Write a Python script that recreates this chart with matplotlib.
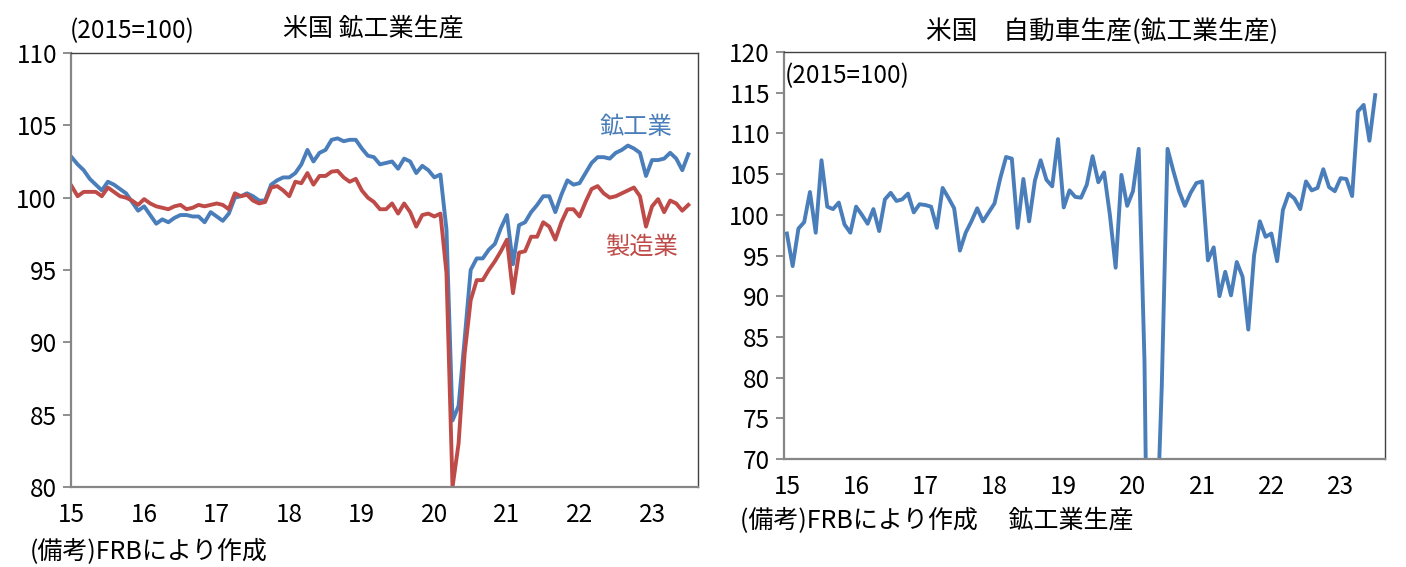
import matplotlib
matplotlib.use("Agg")
import matplotlib.pyplot as plt
import numpy as np

plt.rcParams['font.family'] = ['Noto Sans CJK JP', 'DejaVu Sans']

# Monthly data, Jan 2015 - Jul 2023 (2015=100)
year_labels = ['15', '16', '17', '18', '19', '20', '21', '22', '23']

mining_total = [
    102.8, 102.3, 101.9, 101.3, 100.9, 100.5, 101.1, 100.9, 100.6, 100.3, 99.7, 99.1,
    99.4, 98.8, 98.2, 98.5, 98.3, 98.6, 98.8, 98.8, 98.7, 98.7, 98.3, 99.0,
    98.7, 98.4, 98.9, 100.0, 100.1, 100.3, 100.1, 99.8, 99.8, 100.9, 101.2, 101.4,
    101.4, 101.7, 102.3, 103.3, 102.5, 103.1, 103.3, 104.0, 104.1, 103.9, 104.0, 104.0,
    103.4, 102.9, 102.8, 102.3, 102.4, 102.5, 102.0, 102.7, 102.5, 101.7, 102.2, 101.9,
    101.4, 101.6, 97.8, 84.6, 85.6, 90.2, 95.0, 95.8, 95.8, 96.4, 96.8, 97.9,
    98.8, 95.4, 98.1, 98.3, 99.0, 99.5, 100.1, 100.1, 99.0, 100.2, 101.2, 100.9,
    101.0, 101.7, 102.4, 102.8, 102.8, 102.7, 103.1, 103.3, 103.6, 103.4, 103.1, 101.5,
    102.6, 102.6, 102.7, 103.1, 102.7, 101.9, 103.0,
]

manufacturing = [
    100.8, 100.1, 100.4, 100.4, 100.4, 100.1, 100.7, 100.4, 100.1, 100.0, 99.8, 99.5,
    99.9, 99.6, 99.4, 99.3, 99.2, 99.4, 99.5, 99.2, 99.3, 99.5, 99.4, 99.5,
    99.6, 99.5, 99.2, 100.3, 100.1, 100.2, 99.8, 99.6, 99.7, 100.7, 100.8, 100.5,
    100.1, 101.1, 101.0, 101.7, 100.9, 101.5, 101.5, 101.8, 101.85, 101.4, 101.1, 101.3,
    100.5, 100.0, 99.7, 99.2, 99.2, 99.6, 98.9, 99.6, 99.0, 98.0, 98.8, 98.9,
    98.7, 98.9, 94.8, 80.0, 83.0, 89.2, 92.9, 94.3, 94.3, 95.0, 95.6, 96.3,
    97.1, 93.4, 96.2, 96.3, 97.3, 97.3, 98.3, 98.0, 97.1, 98.3, 99.2, 99.2,
    98.7, 99.7, 100.6, 100.8, 100.3, 100.0, 100.1, 100.3, 100.5, 100.7, 100.1, 98.0,
    99.4, 99.9, 99.0, 99.8, 99.6, 99.1, 99.5,
]

auto = [
    97.7, 93.7, 98.3, 99.1, 102.8, 97.8, 106.7, 101.0, 100.7, 101.5, 98.8, 97.8,
    101.0, 100.0, 98.9, 100.7, 98.0, 101.9, 102.7, 101.7, 101.9, 102.6, 100.3, 101.3,
    101.2, 101.0, 98.4, 103.3, 102.1, 100.8, 95.6, 97.8, 99.2, 100.8, 99.2, 100.3,
    101.4, 104.5, 107.1, 106.9, 98.4, 104.4, 99.2, 104.2, 106.7, 104.3, 103.5, 109.3,
    100.9, 103.0, 102.2, 102.1, 103.7, 107.2, 104.0, 105.2, 100.0, 93.5, 104.9, 101.1,
    102.9, 108.1, 82.0, 25.0, 58.0, 79.0, 108.1, 105.4, 102.9, 101.1, 102.7, 103.9,
    104.1, 94.4, 96.0, 90.0, 93.0, 90.1, 94.2, 92.4, 85.9, 95.0, 99.2, 97.3,
    97.7, 94.3, 100.6, 102.6, 102.0, 100.7, 104.1, 103.0, 103.3, 105.6, 103.4, 102.9,
    104.5, 104.4, 102.3, 112.7, 113.5, 109.1, 114.7,
]

BLUE = '#4A7EBB'
RED = '#BE4B48'
GREY = '#868686'
DARK = '#404040'

W, H = 1406, 567
fig = plt.figure(figsize=(W / 100, H / 100), dpi=100)


def px_axes(l, t, r, b):
    return fig.add_axes([l / W, 1 - b / H, (r - l) / W, (b - t) / H])


def style(ax):
    for s in ['left', 'bottom']:
        ax.spines[s].set_color(GREY)
        ax.spines[s].set_linewidth(1.6)
    for s in ['top', 'right']:
        ax.spines[s].set_color(DARK)
        ax.spines[s].set_linewidth(1.0)
    ax.tick_params(axis='y', direction='out', length=6, width=1.3, color=GREY,
                   labelsize=17.5, pad=4)
    ax.tick_params(axis='x', length=0, labelsize=17.5, pad=11)


x = np.arange(len(mining_total))
xt = np.arange(0, len(year_labels) * 12, 12)

# Left chart
ax1 = px_axes(71, 53, 698, 487)
ax1.plot(x, mining_total, color=BLUE, lw=2.8, solid_joinstyle='round')
ax1.plot(x, manufacturing, color=RED, lw=2.8, solid_joinstyle='round')
ax1.set_xlim(-0.1, 103.6)
ax1.set_ylim(80, 110)
ax1.set_yticks(np.arange(80, 111, 5))
ax1.set_xticks(xt)
ax1.set_xticklabels(year_labels)
style(ax1)
fig.text(636 / W, 1 - 127 / H, '鉱工業', color=BLUE, fontsize=17.5, ha='center', va='center')
fig.text(641 / W, 1 - 247 / H, '製造業', color=RED, fontsize=17.5, ha='center', va='center')
fig.text(70 / W, 1 - 31 / H, '(2015=100)', fontsize=17.5, ha='left', va='center')
fig.text(373 / W, 1 - 28 / H, '米国 鉱工業生産', fontsize=18, ha='center', va='center')
fig.text(30 / W, 1 - 551 / H, '(備考)FRBにより作成', fontsize=18, ha='left', va='center')

# Right chart
ax2 = px_axes(784, 52, 1385, 459)
ax2.plot(x, auto, color=BLUE, lw=2.8, solid_joinstyle='round')
ax2.set_xlim(-0.5, 103.7)
ax2.set_ylim(70, 120)
ax2.set_yticks(np.arange(70, 121, 5))
ax2.set_xticks(xt)
ax2.set_xticklabels(year_labels)
style(ax2)
fig.text(785 / W, 1 - 76 / H, '(2015=100)', fontsize=17.5, ha='left', va='center')
fig.text(1102 / W, 1 - 32 / H, '米国　自動車生産(鉱工業生産)', fontsize=18.5, ha='center', va='center')
fig.text(740 / W, 1 - 521 / H, '(備考)FRBにより作成　 鉱工業生産', fontsize=18, ha='left', va='center')

fig.savefig('out.png', dpi=100)
